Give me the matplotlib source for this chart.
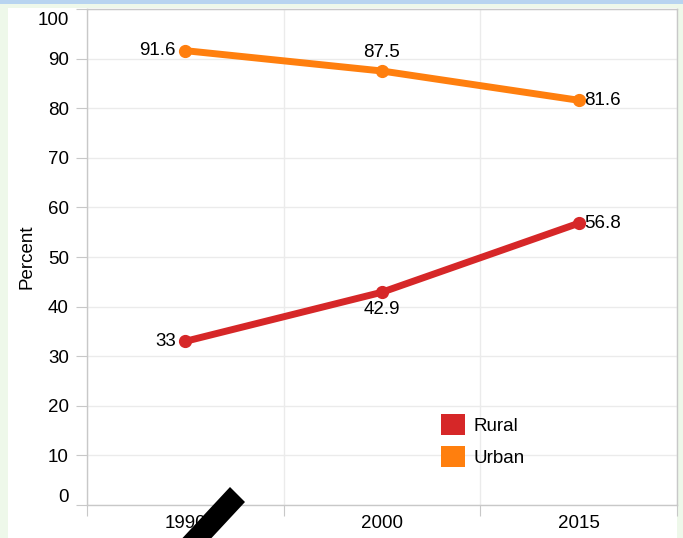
import matplotlib
matplotlib.use("Agg")
import matplotlib.pyplot as plt
from matplotlib.patches import Rectangle, Polygon, Patch
from matplotlib.transforms import offset_copy

plt.rcParams['font.family'] = ['Liberation Sans', 'DejaVu Sans']

years = ["1990", "2000", "2015"]
rural = [33, 42.9, 56.8]
urban = [91.6, 87.5, 81.6]
yticks = [0, 10, 20, 30, 40, 50, 60, 70, 80, 90, 100]

c_rural = "#d62728"
c_urban = "#ff7f0e"
grid_c = "#ebebeb"
axis_c = "#c8c8c8"

W, H = 683, 538
fig = plt.figure(figsize=(W / 100, H / 100), dpi=100)
fig.patch.set_facecolor("#eef8ea")

def px_rect(x0, y0, x1, y1, color):
    fig.patches.append(Rectangle((x0 / W, 1 - y1 / H), (x1 - x0) / W, (y1 - y0) / H,
                                 transform=fig.transFigure, facecolor=color,
                                 edgecolor="none", zorder=-10))

px_rect(0, 0, W, 4, "#b8d4f0")
px_rect(8, 8, 677, H, "white")

ax = fig.add_axes([87 / W, 1 - 505 / H, (677 - 87) / W, (505 - 9) / H])
ax.set_facecolor("white")

fs = 13.5

x = list(range(len(years)))
ax.plot(x, urban, color=c_urban, lw=5, marker="o", ms=8.5, solid_capstyle="round", zorder=3)
ax.plot(x, rural, color=c_rural, lw=5, marker="o", ms=8.5, solid_capstyle="round", zorder=3)

ax.set_xlim(-0.5, len(years) - 0.5)
ax.set_ylim(0, 100)

# x axis: band boundaries as major ticks, labels at band centres
ax.set_xticks([i - 0.5 for i in range(len(years) + 1)])
ax.set_xticklabels([])
ax.set_xticks(x, minor=True)
ax.set_xticklabels(years, minor=True, fontsize=fs)
ax.tick_params(axis="x", which="major", length=8, color=axis_c, direction="out")
ax.tick_params(axis="x", which="minor", length=0, pad=7)

ax.set_yticks(yticks)
ax.set_yticklabels([str(v) for v in yticks], fontsize=fs)
ax.tick_params(axis="y", length=8, color=axis_c, pad=5)
labs = ax.get_yticklabels()
labs[0].set_va("bottom")
labs[0].set_transform(offset_copy(labs[0].get_transform(), fig=fig, y=-1, units="dots"))
labs[-1].set_va("top")
labs[-1].set_transform(offset_copy(labs[-1].get_transform(), fig=fig, y=-3, units="dots"))

ax.grid(True, which="major", color=grid_c, lw=1)
ax.set_axisbelow(True)
for s in ax.spines.values():
    s.set_color(axis_c)
    s.set_linewidth(1)

ax.set_ylabel("Percent", fontsize=fs, labelpad=1.5)

# data labels
ax.annotate(f"{urban[0]:g}", (0, urban[0]), xytext=(-7, 0), textcoords="offset points", ha="right", va="center", fontsize=fs)
ax.annotate(f"{rural[0]:g}", (0, rural[0]), xytext=(-7, 0), textcoords="offset points", ha="right", va="center", fontsize=fs)
ax.annotate(f"{urban[1]:g}", (1, urban[1]), xytext=(0, 7), textcoords="offset points", ha="center", va="bottom", fontsize=fs)
ax.annotate(f"{rural[1]:g}", (1, rural[1]), xytext=(0, -6), textcoords="offset points", ha="center", va="top", fontsize=fs)
ax.annotate(f"{urban[2]:g}", (2, urban[2]), xytext=(4, 0), textcoords="offset points", ha="left", va="center", fontsize=fs)
ax.annotate(f"{rural[2]:g}", (2, rural[2]), xytext=(4, 0), textcoords="offset points", ha="left", va="center", fontsize=fs)

handles = [Patch(facecolor=c_rural, edgecolor="none", label="Rural"),
           Patch(facecolor=c_urban, edgecolor="none", label="Urban")]
ax.legend(handles=handles, loc="upper left", bbox_to_anchor=((441 - 87) / 590, (505 - 414) / 496),
          frameon=False, fontsize=fs, handlelength=1.3, handleheight=1.35,
          handletextpad=0.45, labelspacing=0.6, borderpad=0, borderaxespad=0)

# black diagonal stroke overlaying the image
pts = [(230, 487), (245, 502), (205, 545), (176, 545)]
fig.patches.append(Polygon([(px / W, 1 - py / H) for px, py in pts], closed=True,
                           transform=fig.transFigure, facecolor="black", edgecolor="none", zorder=10))

fig.savefig("out.png", dpi=100, facecolor=fig.get_facecolor())
